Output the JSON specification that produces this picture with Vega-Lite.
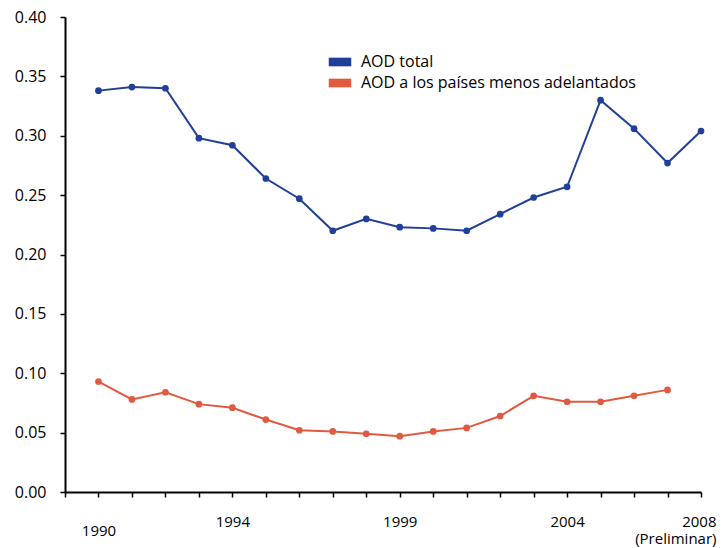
{
  "$schema": "https://vega.github.io/schema/vega-lite/v6.json",
  "autosize": "none",
  "width": 636,
  "height": 475,
  "padding": {"left": 65, "top": 17, "right": 22, "bottom": 56},
  "background": "white",
  "config": {
    "view": {"stroke": null},
    "font": "Open Sans",
    "axis": {"grid": false, "domainColor": "black", "domainWidth": 2, "tickColor": "black", "tickWidth": 1.5, "labelColor": "black", "labelFont": "Open Sans", "labelFontSize": 15, "titleFontSize": 0}
  },
  "data": {"values": [
    {"year": 1990, "serie": "AOD total", "valor": 0.338},
    {"year": 1991, "serie": "AOD total", "valor": 0.341},
    {"year": 1992, "serie": "AOD total", "valor": 0.340},
    {"year": 1993, "serie": "AOD total", "valor": 0.298},
    {"year": 1994, "serie": "AOD total", "valor": 0.292},
    {"year": 1995, "serie": "AOD total", "valor": 0.264},
    {"year": 1996, "serie": "AOD total", "valor": 0.247},
    {"year": 1997, "serie": "AOD total", "valor": 0.220},
    {"year": 1998, "serie": "AOD total", "valor": 0.230},
    {"year": 1999, "serie": "AOD total", "valor": 0.223},
    {"year": 2000, "serie": "AOD total", "valor": 0.222},
    {"year": 2001, "serie": "AOD total", "valor": 0.220},
    {"year": 2002, "serie": "AOD total", "valor": 0.234},
    {"year": 2003, "serie": "AOD total", "valor": 0.248},
    {"year": 2004, "serie": "AOD total", "valor": 0.257},
    {"year": 2005, "serie": "AOD total", "valor": 0.330},
    {"year": 2006, "serie": "AOD total", "valor": 0.306},
    {"year": 2007, "serie": "AOD total", "valor": 0.277},
    {"year": 2008, "serie": "AOD total", "valor": 0.304},
    {"year": 1990, "serie": "AOD a los países  menos  adelantados", "valor": 0.093},
    {"year": 1991, "serie": "AOD a los países  menos  adelantados", "valor": 0.078},
    {"year": 1992, "serie": "AOD a los países  menos  adelantados", "valor": 0.084},
    {"year": 1993, "serie": "AOD a los países  menos  adelantados", "valor": 0.074},
    {"year": 1994, "serie": "AOD a los países  menos  adelantados", "valor": 0.071},
    {"year": 1995, "serie": "AOD a los países  menos  adelantados", "valor": 0.061},
    {"year": 1996, "serie": "AOD a los países  menos  adelantados", "valor": 0.052},
    {"year": 1997, "serie": "AOD a los países  menos  adelantados", "valor": 0.051},
    {"year": 1998, "serie": "AOD a los países  menos  adelantados", "valor": 0.049},
    {"year": 1999, "serie": "AOD a los países  menos  adelantados", "valor": 0.047},
    {"year": 2000, "serie": "AOD a los países  menos  adelantados", "valor": 0.051},
    {"year": 2001, "serie": "AOD a los países  menos  adelantados", "valor": 0.054},
    {"year": 2002, "serie": "AOD a los países  menos  adelantados", "valor": 0.064},
    {"year": 2003, "serie": "AOD a los países  menos  adelantados", "valor": 0.081},
    {"year": 2004, "serie": "AOD a los países  menos  adelantados", "valor": 0.076},
    {"year": 2005, "serie": "AOD a los países  menos  adelantados", "valor": 0.076},
    {"year": 2006, "serie": "AOD a los países  menos  adelantados", "valor": 0.081},
    {"year": 2007, "serie": "AOD a los países  menos  adelantados", "valor": 0.086}
  ]},
  "encoding": {
    "x": {
      "field": "year", "type": "quantitative",
      "scale": {"domain": [1989, 2008], "nice": false, "zero": false},
      "axis": {
        "title": null,
        "values": [1989, 1990, 1991, 1992, 1993, 1994, 1995, 1996, 1997, 1998, 1999, 2000, 2001, 2002, 2003, 2004, 2005, 2006, 2007, 2008],
        "labelExpr": "datum.value == 2008 ? ['2008', '(Preliminar)'] : (indexof([1990, 1994, 1999, 2004], datum.value) >= 0 ? '' + datum.value : '')",
        "tickSize": 5,
        "labelFlush": false,
        "labelOverlap": false,
        "labelLineHeight": 17,
        "labelPadding": {"condition": {"test": "datum.value == 1990", "value": 26}, "value": 17},
        "labelAlign": {"condition": {"test": "datum.value == 2008", "value": "right"}, "value": "center"},
        "labelOffset": {"condition": {"test": "datum.value == 2008", "value": 15}, "value": 0}
      }
    },
    "y": {
      "field": "valor", "type": "quantitative",
      "scale": {"domain": [0, 0.4], "nice": false},
      "axis": {"title": null, "values": [0, 0.05, 0.1, 0.15, 0.2, 0.25, 0.3, 0.35, 0.4], "format": ".2f", "tickSize": 5, "labelPadding": 14, "labelFontSize": 16}
    },
    "color": {
      "field": "serie", "type": "nominal",
      "scale": {"domain": ["AOD total", "AOD a los países  menos  adelantados"], "range": ["#203f98", "#df5a40"]},
      "legend": {
        "title": null, "orient": "none", "legendX": 266, "legendY": 36,
        "symbolType": "M-1.3,-0.5H1.3V0.5H-1.3Z", "symbolSize": 300, "symbolStrokeWidth": 0,
        "labelFontSize": 16, "labelColor": "black", "labelFont": "Open Sans", "rowPadding": 4, "labelOffset": 12, "labelLimit": 500
      }
    }
  },
  "layer": [
    {"mark": {"type": "line", "strokeWidth": 2}},
    {"mark": {"type": "point", "filled": true, "size": 45, "opacity": 1}}
  ]
}
